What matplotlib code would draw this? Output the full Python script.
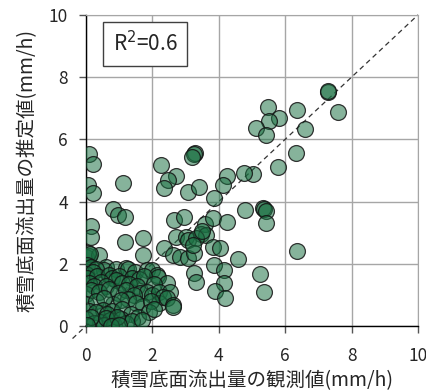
import matplotlib
matplotlib.use("Agg")
import matplotlib.pyplot as plt

plt.rcParams['font.family'] = ['Noto Sans CJK JP', 'DejaVu Sans']

# observed (x) and estimated (y) values, mm/h
upper_obs = [7.30, 7.30, 7.60, 5.47, 6.35, 5.80, 5.50, 5.12, 5.42, 6.59, 6.34, 5.77, 5.02, 4.75,
             4.25, 4.12, 3.87, 3.29, 3.26, 3.19, 2.27, 2.72, 2.47, 2.35, 3.07, 3.42, 1.12, 0.10,
             0.22, 0.07, 0.22, 0.82, 0.97, 1.17, 1.17, 1.72, 1.72, 0.15, 0.17, 2.65, 2.97, 3.60,
             3.84, 4.25, 4.80, 5.34, 5.36, 5.42, 5.42, 2.72, 3.02, 3.07, 3.47, 3.62, 3.32, 2.34,
             2.62, 2.82, 3.07, 3.27, 3.22, 3.84, 4.04, 4.57, 6.37, 3.87, 4.15, 3.25, 3.32, 4.17,
             3.90, 4.19, 5.24, 5.35, 3.50]
upper_est = [7.53, 7.55, 6.87, 7.05, 6.95, 6.68, 6.60, 6.38, 6.14, 6.32, 5.57, 5.12, 4.89, 4.93,
             4.83, 4.53, 4.13, 5.55, 5.52, 5.44, 5.16, 4.83, 4.69, 4.43, 4.32, 4.46, 4.61, 5.52,
             5.20, 4.53, 4.29, 3.75, 3.57, 3.52, 2.71, 2.82, 2.28, 3.23, 2.87, 3.41, 3.52, 3.28,
             3.46, 3.35, 3.73, 3.78, 3.76, 3.70, 3.32, 2.87, 2.87, 2.77, 2.95, 2.93, 2.84, 2.50,
             2.28, 2.23, 2.18, 2.34, 2.60, 2.55, 2.50, 2.14, 2.42, 1.96, 1.80, 1.71, 1.43, 1.39,
             1.13, 0.91, 1.66, 1.10, 3.05]

low_obs = [0.02, 0.10, 0.40, 0.07, 0.12,
           0.05, 0.15, 0.62, 0.55, 0.30, 0.90, 1.20, 1.28, 1.48, 1.83, 1.98, 2.13, 2.16,
           0.00, 0.22, 0.05, 0.35, 0.70, 0.80, 1.00, 1.40, 1.60, 1.75,
           0.47, 0.92, 0.10, 0.25, 0.60, 1.10, 1.30, 1.55, 2.43, 2.05,
           0.02, 0.15, 0.40, 0.70, 0.97, 1.20, 1.63, 1.83, 2.00, 2.20, 2.53, 1.45,
           0.02, 0.32, 0.82, 1.27, 0.55, 1.05, 1.73, 2.20, 2.33, 2.43, 2.63, 2.63, 1.50, 1.95,
           0.10, 0.52, 0.30, 0.80, 1.10, 1.36, 1.56, 1.90, 2.05, 0.65,
           0.02, 0.42, 0.72, 1.06, 0.25, 0.55, 0.85, 1.20, 1.40, 0.15, 0.60, 0.95, 1.70, 0.05,
           0.75, 1.00]
low_est = [2.23, 2.25, 2.28, 2.34, 2.31,
           1.95, 1.90, 1.91, 1.80, 1.85, 1.82, 1.88, 1.85, 1.75, 1.80, 1.80, 1.64, 1.58,
           1.68, 1.75, 1.55, 1.60, 1.65, 1.55, 1.60, 1.55, 1.50, 1.62,
           1.42, 1.49, 1.40, 1.30, 1.30, 1.40, 1.35, 1.30, 1.37, 1.35,
           1.04, 1.15, 1.10, 1.20, 1.06, 1.15, 1.05, 1.10, 1.00, 1.10, 1.10, 1.00,
           0.72, 0.82, 0.72, 0.86, 0.90, 0.85, 0.65, 0.75, 0.94, 0.89, 0.68, 0.62, 0.75, 0.80,
           0.50, 0.51, 0.45, 0.48, 0.55, 0.40, 0.30, 0.44, 0.55, 0.40,
           0.23, 0.13, 0.19, 0.23, 0.10, 0.05, 0.05, 0.10, 0.15, 0.30, 0.25, 0.30, 0.20, 0.05,
           0.00, 0.05]

obs = upper_obs + low_obs
est = upper_est + low_est

ticks = [0, 2, 4, 6, 8, 10]
r2_text = r'R$^2$=0.6'

fig = plt.figure(figsize=(4.27, 3.91), dpi=100)
ax = fig.add_axes([0.201, 0.166, 0.778, 0.796])

ax.set_xlim(0, 10)
ax.set_ylim(0, 10)
ax.set_xticks(ticks)
ax.set_yticks(ticks)
ax.grid(True, color='#a6a6a6', linewidth=1.0)
ax.set_axisbelow(True)

ax.plot([-0.4, 10], [-0.4, 10], linestyle=(0, (4, 3)), color='#333333', linewidth=0.9,
        clip_on=False, zorder=1)

ax.scatter(obs, est, s=130, facecolors=[(0.10, 0.44, 0.26, 0.53)],
           edgecolors=[(0.08, 0.08, 0.08, 0.85)], linewidths=0.9, zorder=3)

for s in ['top', 'right']:
    ax.spines[s].set_color('#a6a6a6')
for s in ['left', 'bottom']:
    ax.spines[s].set_color('black')
    ax.spines[s].set_linewidth(1.0)

ax.tick_params(axis='both', direction='out', length=5, width=1, color='#555555',
               labelsize=12.5, labelcolor='#262626')
ax.tick_params(axis='x', pad=10)
ax.tick_params(axis='y', pad=8)

ax.set_xlabel('積雪底面流出量の観測値(mm/h)', fontsize=14, color='#262626', labelpad=4)
ax.set_ylabel('積雪底面流出量の推定値(mm/h)', fontsize=14, color='#262626', labelpad=8)

ax.text(1.78, 9.07, r2_text, fontsize=15, color='#262626', va='center', ha='center', zorder=5,
        bbox=dict(boxstyle='square,pad=0.45', facecolor='white', edgecolor='#404040', linewidth=1))

fig.savefig('out.png', dpi=100)
